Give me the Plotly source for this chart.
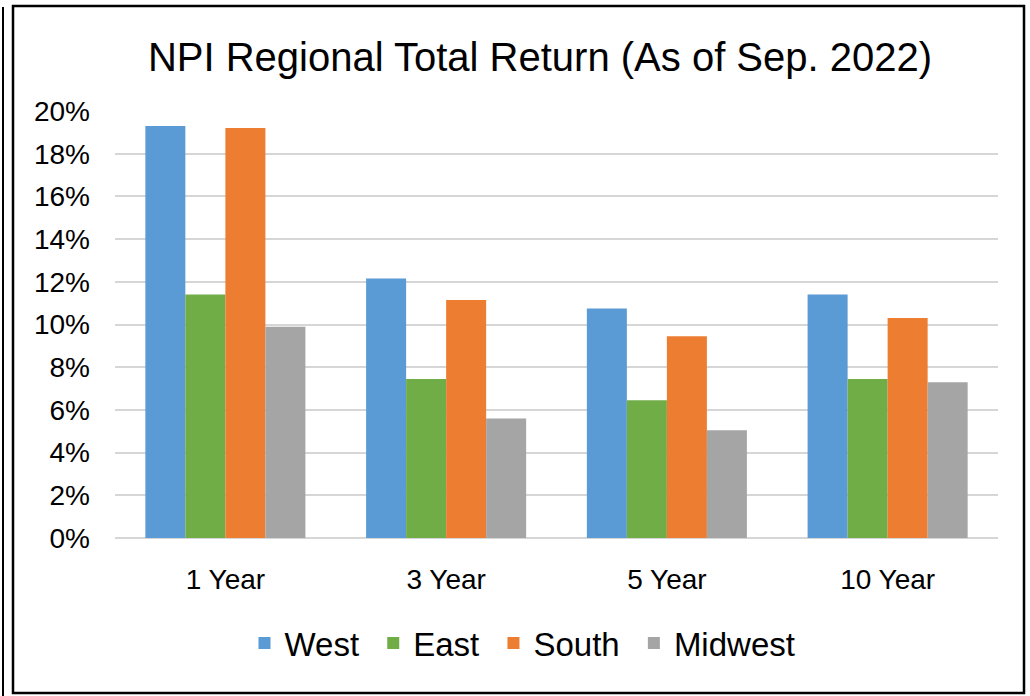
import plotly.graph_objects as go

categories = ["1 Year", "3 Year", "5 Year", "10 Year"]
west = [19.3, 12.15, 10.75, 11.4]
east = [11.4, 7.45, 6.45, 7.45]
south = [19.2, 11.15, 9.45, 10.3]
midwest = [9.9, 5.6, 5.05, 7.3]

series = [
    ("West", west, "#5B9BD5"),
    ("East", east, "#70AD47"),
    ("South", south, "#ED7D31"),
    ("Midwest", midwest, "#A5A5A5"),
]

FONT = "Liberation Sans, Arial, sans-serif"
NBSP = "\u00a0"  # keeps a little extra room after each legend entry

fig = go.Figure()
for name, vals, color in series:
    fig.add_trace(go.Bar(name=name + NBSP, x=categories, y=vals, marker_color=color,
                         marker_line_width=0, hoverinfo="x+y+name"))

# plot area in pixels: x 115..998, y 111..538
L, R, T, B = 115, 998, 111, 538
W, H = 1030, 696

def px(x):
    return (x - L) / (R - L)

def py(y):
    return (B - y) / (B - T)

shapes = [
    dict(type="rect", xref="paper", yref="paper",
         x0=px(13), x1=px(1024), y0=py(693), y1=py(6),
         line=dict(color="black", width=2.5), fillcolor="rgba(0,0,0,0)", layer="above"),
    dict(type="line", xref="paper", yref="paper",
         x0=px(3), x1=px(3), y0=py(696), y1=py(7),
         line=dict(color="black", width=2), layer="above"),
]

fig.update_layout(
    width=W, height=H,
    margin=dict(l=L, r=W - R, t=T, b=H - B, pad=0),
    paper_bgcolor="white", plot_bgcolor="white",
    barmode="group", bargap=0.275, bargroupgap=0,
    font=dict(family=FONT, size=28, color="black"),
    title=dict(text="NPI Regional Total Return (As of Sep. 2022)",
               font=dict(family=FONT, size=40, color="black"),
               x=540 / W, xanchor="center", xref="container",
               y=1 - 57 / H, yanchor="middle", yref="container"),
    legend=dict(orientation="h", xref="container", yref="container",
                x=527 / W, xanchor="center", y=1 - 643 / H, yanchor="middle",
                font=dict(family=FONT, size=33, color="black"),
                itemwidth=30, traceorder="normal"),
    shapes=shapes,
    xaxis=dict(showgrid=False, showline=False, ticks="", zeroline=False,
               tickfont=dict(family=FONT, size=28, color="black"),
               ticklabelstandoff=22),
    yaxis=dict(range=[0, 20], dtick=2, tick0=0, ticksuffix="%",
               showgrid=True, gridcolor="#D6D6D6", gridwidth=2,
               zeroline=True, zerolinecolor="#D6D6D6", zerolinewidth=2,
               showline=False, ticks="",
               tickfont=dict(family=FONT, size=28, color="black"),
               ticklabelstandoff=24),
)

fig.write_html("out.html", config={"displayModeBar": False},
               post_script="document.body.style.margin='0';document.body.style.overflow='hidden';")
